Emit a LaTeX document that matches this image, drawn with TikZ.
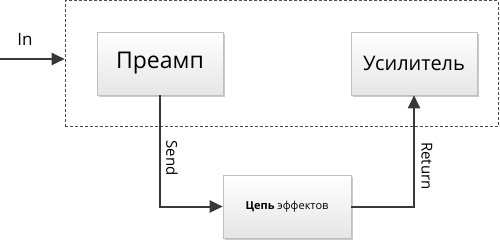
\documentclass[tikz,border=0pt]{standalone}
\usepackage{fontspec}
\setmainfont{Open Sans}
\usetikzlibrary{arrows.meta,shadows}
\begin{document}
\begin{tikzpicture}[x=1pt,y=-1pt,
  blk/.style={draw=black!25, line width=0.6pt, top color=white, bottom color=black!10,
    drop shadow={shadow xshift=1.5pt, shadow yshift=-1.5pt, opacity=0.35, fill=black!60},
    minimum width=126pt, minimum height=63pt, inner sep=0pt},
  conn/.style={draw=black!78, line width=2pt, -{Triangle[length=13pt,width=12pt]}},
  lbl/.style={font=\fontsize{15}{16}\selectfont, text=black}]
\useasboundingbox (0,0) rectangle (500,242);
\node[draw=black!70, dashed, dash pattern=on 3pt off 2pt, line width=0.6pt, minimum width=433pt, minimum height=126pt, inner sep=0pt] (frame) at (281.5,63.5) {};
\node[blk, font=\fontsize{23}{26}\selectfont] (pre) at (160,63.5) {Преамп};
\node[blk, font=\fontsize{20}{24}\selectfont] (amp) at (414,63.5) {Усилитель};
\node[blk, minimum width=128pt, font=\fontsize{11}{13}\selectfont] (fx) at (287,206.5) {\textbf{Цепь} эффектов};
\coordinate (inS) at (0,59);
\draw[conn] (inS) -- (frame.west |- inS);
\node[lbl, font=\fontsize{17}{18}\selectfont] (inL) at (25,39) {In};
\draw[conn] (pre.south) |- (fx.west);
\draw[conn] (fx.east) -| (amp.south);
\node[lbl, rotate=-90] (sendL) at (172,158) {Send};
\node[lbl, rotate=-90] (retL) at (427,166) {Return};
\end{tikzpicture}
\end{document}
